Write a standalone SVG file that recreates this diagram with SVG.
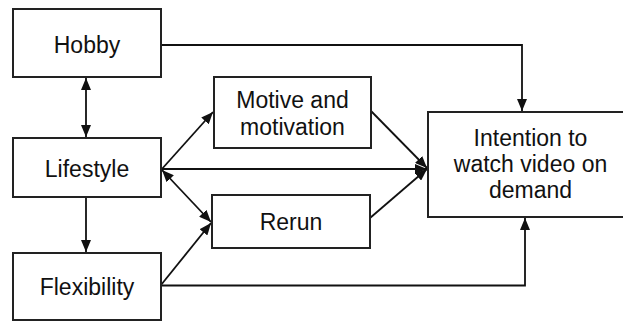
<svg xmlns="http://www.w3.org/2000/svg" width="623" height="322" viewBox="0 0 623 322">
<style>
.box{fill:#fff;stroke:#222;stroke-width:2}
.lbl{font-family:"Liberation Sans",Arial,sans-serif;font-size:23px;fill:#111;text-anchor:middle}
.con{fill:none;stroke:#111;stroke-width:1.8}
</style>
<defs>
<marker id="ah" viewBox="0 0 12 10" refX="12" refY="5" markerWidth="12" markerHeight="10" markerUnits="userSpaceOnUse" orient="auto-start-reverse">
<path d="M0,0 L12,5 L0,10 Z" fill="#111"/>
</marker>
</defs>
<rect width="623" height="322" fill="#fff"/>
<g id="connectors">
<path class="con" d="M161,45 H522 V111" marker-end="url(#ah)"/>
<path class="con" d="M86,78 V137" marker-start="url(#ah)" marker-end="url(#ah)"/>
<path class="con" d="M86,197 V252" marker-end="url(#ah)"/>
<path class="con" d="M161,170 L213,112" marker-end="url(#ah)"/>
<path class="con" d="M161,169 H427" marker-end="url(#ah)"/>
<path class="con" d="M162,170 L211,222" marker-start="url(#ah)" marker-end="url(#ah)"/>
<path class="con" d="M161,285 L211,223" marker-end="url(#ah)"/>
<path class="con" d="M161,285.5 H525 V218" marker-end="url(#ah)"/>
<path class="con" d="M371,111 L427,168" marker-end="url(#ah)"/>
<path class="con" d="M370,218 L427,169" marker-end="url(#ah)"/>
</g>
<g id="hobby"><rect class="box" x="13" y="9" width="148" height="68"/><text class="lbl" x="87" y="53">Hobby</text></g>
<g id="lifestyle"><rect class="box" x="13" y="138" width="148" height="59"/><text class="lbl" x="87" y="177">Lifestyle</text></g>
<g id="flexibility"><rect class="box" x="13" y="253" width="148" height="67"/><text class="lbl" x="87" y="295">Flexibility</text></g>
<g id="motive"><rect class="box" x="214" y="77" width="157" height="71"/><text class="lbl" x="292.5" y="108">Motive and</text><text class="lbl" x="292.5" y="135">motivation</text></g>
<g id="rerun"><rect class="box" x="212" y="195" width="158" height="53"/><text class="lbl" x="291" y="230">Rerun</text></g>
<g id="intention"><rect class="box" x="428" y="112" width="205" height="105"/><text class="lbl" x="530.5" y="146">Intention to</text><text class="lbl" x="530.5" y="172">watch video on</text><text class="lbl" x="530.5" y="198">demand</text></g>
</svg>
